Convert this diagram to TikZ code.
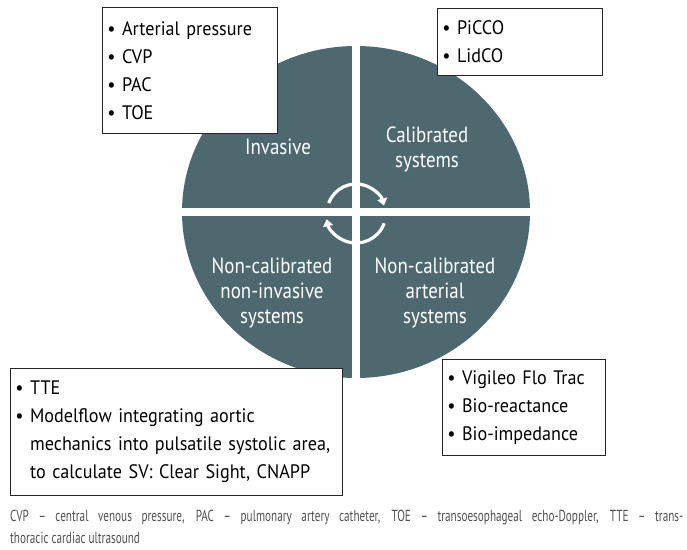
\documentclass[tikz,border=0pt]{standalone}
\usepackage{fontspec}
\setmainfont{PT Sans}[FakeStretch=0.93]
\newfontfamily\quadfont{PT Sans}[FakeStretch=0.86]
\newfontfamily\capfont{PT Sans}[FakeStretch=0.70]
\usetikzlibrary{arrows.meta}
\definecolor{slate}{RGB}{77,105,111}
\definecolor{capgray}{RGB}{80,80,80}
\begin{document}
\begin{tikzpicture}[x=1pt, y=-1pt, >=stealth]
\tikzstyle{every node}=[inner sep=0pt]
\tikzstyle{listbox}=[draw=black!85, line width=0.8pt, fill=white, anchor=north west, align=left, inner xsep=5pt, font=\fontsize{19.5}{28}\selectfont]
\tikzstyle{quad}=[text=white, align=center, font=\quadfont\fontsize{22}{25}\selectfont]
\tikzstyle{capline}=[anchor=base west, text=capgray, font=\capfont\fontsize{16}{20}\selectfont]
\tikzstyle{turn}=[white, line width=3.2pt, -{Triangle[length=7pt,width=10pt]}]
\useasboundingbox (0,0) rectangle (687,549);
% disc and white cross
\fill[slate] (356,212) ellipse [x radius=174, y radius=166];
\fill[white] (352,40) rectangle (360,385);
\fill[white] (176,208) rectangle (536,216);
% quadrant labels
\node[quad] (inv) at (278,147) {Invasive};
\node[quad] (cal) at (427,149) {Calibrated\\systems};
\node[quad] (ncni) at (272,293) {Non-calibrated\\non-invasive\\systems};
\node[quad] (ncart) at (435,293) {Non-calibrated\\arterial\\systems};
% turning arrows
\coordinate (mid) at (356,213);
\draw[turn] ([shift={(200:29)}]mid) arc[start angle=200, end angle=345, radius=29];
\draw[turn] ([shift={(20:30)}]mid) arc[start angle=20, end angle=168, radius=30];
% lists
\node[listbox, minimum width=175, minimum height=126, text width=165pt] (invlist) at (102,7)
  {\textbullet\ Arterial pressure\\\textbullet\ CVP\\\textbullet\ PAC\\\textbullet\ TOE};
\node[listbox, minimum width=165, minimum height=67, text width=155pt] (callist) at (437,8)
  {\textbullet\ PiCCO\\\textbullet\ LidCO};
\node[listbox, minimum width=332, minimum height=127, text width=322pt] (ncnilist) at (10,368)
  {\textbullet\ TTE\\\textbullet\ Modelflow integrating aortic\\
   \phantom{\textbullet\ }mechanics into pulsatile systolic area,\\
   \phantom{\textbullet\ }to calculate SV: Clear Sight, CNAPP};
\node[listbox, minimum width=163, minimum height=96, text width=153pt] (ncartlist) at (442,359)
  {\textbullet\ Vigileo Flo Trac\\\textbullet\ Bio-reactance\\\textbullet\ Bio-impedance};
% caption
\node[capline] (cap1) at (10,521)
  {\makebox[673pt][s]{CVP – central venous pressure, PAC – pulmonary artery catheter, TOE – transoesophageal echo-Doppler, TTE – trans-}};
\node[capline] (cap2) at (10,543) {thoracic cardiac ultrasound};
\end{tikzpicture}
\end{document}
